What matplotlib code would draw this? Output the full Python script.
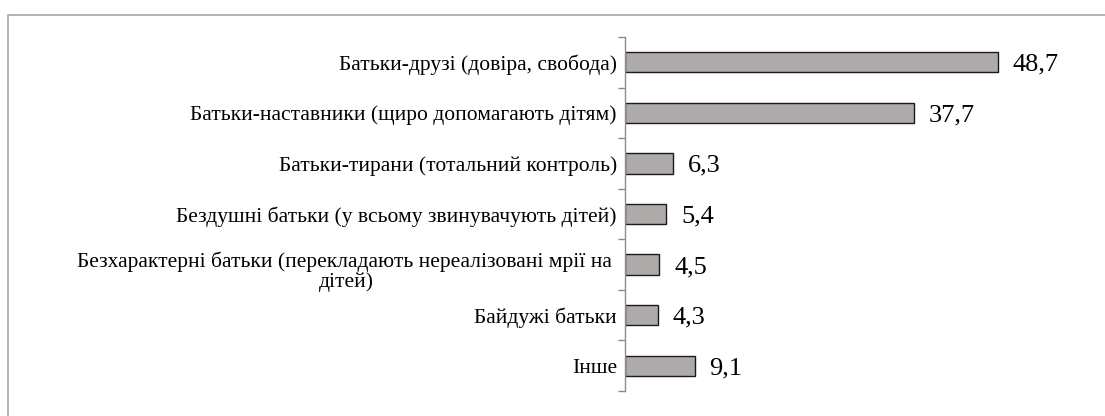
import matplotlib.pyplot as plt
import matplotlib.transforms as mtransforms
from matplotlib.patches import Rectangle

plt.rcParams['font.family'] = ['Liberation Serif', 'DejaVu Serif']

# categories, top to bottom
categories = [
    'Батьки-друзі (довіра, свобода)',
    'Батьки-наставники (щиро допомагають дітям)',
    'Батьки-тирани (тотальний контроль)',
    'Бездушні батьки (у всьому звинувачують дітей)',
    'Безхарактерні батьки (перекладають нереалізовані мрії на \nдітей)',
    'Байдужі батьки',
    'Інше',
]
values = [48.7, 37.7, 6.3, 5.4, 4.5, 4.3, 9.1]
value_labels = ['48,7', '37,7', '6,3', '5,4', '4,5', '4,3', '9,1']

fig = plt.figure(figsize=(11.05, 4.16), dpi=100)
ax = fig.add_axes([0.5656, 0.0601, 0.9819 - 0.5656, 0.911 - 0.0601])

pos = list(range(len(categories)))[::-1]
ax.barh(pos, values, height=0.4, color='#aeaaa9', edgecolor='#1a1a1a', linewidth=1.0)

for p, v, lab in zip(pos, values, value_labels):
    ax.text(v + 1.9, p, lab, va='center_baseline', ha='left', fontsize=19, color='black')

# category labels, wrapped one sits a bit lower like in Excel
blend = mtransforms.blended_transform_factory(ax.transAxes, ax.transData)
for p, cat in zip(pos, categories):
    if '\n' in cat:
        dy, va = -7 / 100, 'center'
    else:
        dy, va = 0, 'center_baseline'
    tr = blend + mtransforms.ScaledTranslation(-8 / 100, dy, fig.dpi_scale_trans)
    ax.text(0, p, cat, transform=tr, ha='right', va=va, fontsize=15.5,
            multialignment='center', linespacing=1.05)

ax.set_xlim(0, 60)
ax.set_ylim(-0.5, len(categories) - 0.5)

ax.set_yticks([i - 0.5 for i in range(len(categories) + 1)])
ax.set_yticklabels([])
ax.tick_params(axis='y', length=5, color='#8c8c8c', width=1)
ax.set_xticks([])

for s in ['top', 'right', 'bottom']:
    ax.spines[s].set_visible(False)
ax.spines['left'].set_color('#8c8c8c')
ax.spines['left'].set_linewidth(1)

# surrounding chart frame
frame = Rectangle((8 / 1105, -0.05), 1.0, 1 - 15 / 416 + 0.05,
                  transform=fig.transFigure, fill=False, edgecolor='#a6a6a6',
                  linewidth=1.2, clip_on=False)
fig.patches.append(frame)

fig.savefig('out.png', dpi=100)
